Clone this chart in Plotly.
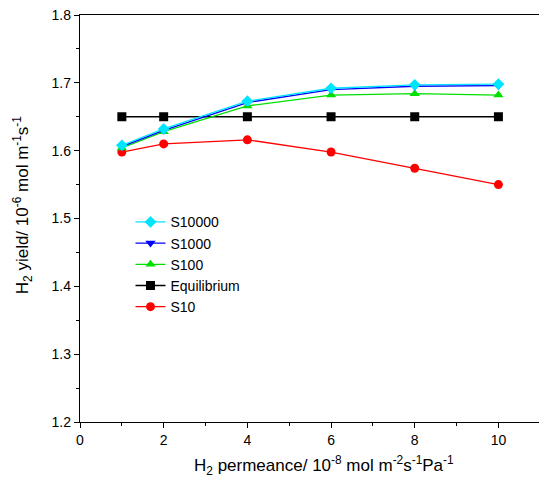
import plotly.graph_objects as go

x_vals = [1, 2, 4, 6, 8, 10]
s10000 = [1.608, 1.632, 1.673, 1.692, 1.697, 1.698]
s1000 = [1.606, 1.630, 1.671, 1.690, 1.695, 1.696]
s100 = [1.604, 1.628, 1.666, 1.682, 1.684, 1.682]
equilibrium = [1.65, 1.65, 1.65, 1.65, 1.65, 1.65]
s10 = [1.598, 1.610, 1.616, 1.598, 1.574, 1.550]

FONT = "Liberation Sans, Arial, sans-serif"

series = [
    ("S10", s10, "#FF0000", "circle"),
    ("Equilibrium", equilibrium, "#000000", "square"),
    ("S100", s100, "#00E000", "triangle-up"),
    ("S1000", s1000, "#0000FF", "triangle-down"),
    ("S10000", s10000, "#00E5FF", "diamond"),
]

fig = go.Figure()
for name, ys, col, sym in series:
    fig.add_trace(go.Scatter(
        x=x_vals, y=ys, name=name, mode="lines+markers",
        line=dict(color=col, width=1.3),
        marker=dict(color=col, symbol=sym, size=9, line=dict(width=0)),
    ))

fig.update_layout(
    width=539, height=493,
    margin=dict(l=80, r=0, t=15, b=71),
    paper_bgcolor="white", plot_bgcolor="white",
    font=dict(family=FONT, size=13, color="black"),
    showlegend=True,
    legend=dict(x=0.11, y=0.53, xanchor="left", yanchor="top",
                traceorder="reversed", bgcolor="rgba(0,0,0,0)",
                font=dict(size=14), tracegroupgap=0),
    xaxis=dict(
        range=[0, 10.97], tickmode="linear", tick0=0, dtick=2,
        ticks="outside", ticklen=5, tickwidth=1, tickcolor="black",
        showline=True, linecolor="black", linewidth=1.3, mirror=True,
        showgrid=False, zeroline=False, automargin=False,
        tickfont=dict(size=14),
        minor=dict(dtick=1, ticks="outside", ticklen=3, tickcolor="black"),
    ),
    yaxis=dict(
        range=[1.2, 1.8], tickmode="linear", tick0=1.2, dtick=0.1,
        tickformat=".1f",
        ticks="outside", ticklen=5, tickwidth=1, tickcolor="black",
        showline=True, linecolor="black", linewidth=1.3,
        showgrid=False, zeroline=False, automargin=False,
        tickfont=dict(size=14),
        minor=dict(dtick=0.05, ticks="outside", ticklen=3, tickcolor="black"),
    ),
    annotations=[
        dict(text="H<sub>2</sub> permeance/ 10<sup>-8</sup> mol m<sup>-2</sup>s<sup>-1</sup>Pa<sup>-1</sup>",
             xref="paper", yref="paper", x=0.532, y=-0.106,
             xanchor="center", yanchor="middle", showarrow=False,
             font=dict(size=17)),
        dict(text="H<sub>2</sub> yield/ 10<sup>-6</sup> mol m<sup>-1</sup>s<sup>-1</sup>",
             xref="paper", yref="paper", x=-0.126, y=0.533, textangle=-90,
             xanchor="center", yanchor="middle", showarrow=False,
             font=dict(size=17)),
    ],
)

fig.write_html("out.html",
               config={"displayModeBar": False},
               post_script="document.body.style.margin='0';document.body.style.overflow='hidden';")
